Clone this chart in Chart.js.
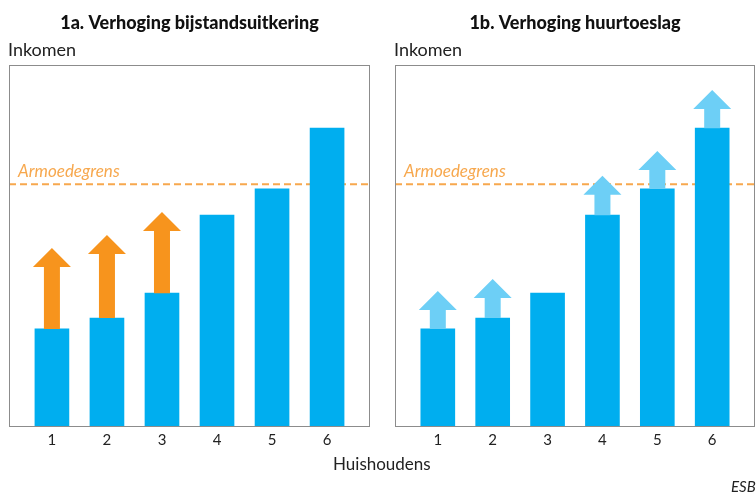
<!DOCTYPE html>
<html>
<head>
<meta charset="utf-8">
<script src="https://cdn.jsdelivr.net/npm/chart.js@4/dist/chart.umd.min.js"></script>
<style>
  body { margin: 0; background: #fff; width: 756px; height: 502px; overflow: hidden; position: relative; font-family: Lato, sans-serif; }
  canvas { position: absolute; top: 0; }
  #c1 { left: 0; }
  #c2 { left: 387px; }
  .lbl { position: absolute; color: #222; white-space: nowrap; }
</style>
</head>
<body>
<canvas id="c1" width="378" height="502"></canvas>
<canvas id="c2" width="369" height="502"></canvas>
<div class="lbl" style="left:333px;top:453px;font-size:17px">Huishoudens</div>
<div class="lbl" style="left:731px;top:477px;font-size:15px;font-style:italic">ESB</div>
<script>
  const categories = ['1', '2', '3', '4', '5', '6']
  const inkomen = [26.9, 29.9, 36.8, 58.4, 65.7, 82.5]
  const naBijstand = [49.3, 52.9, 59.3, null, null, null]
  const naHuurtoeslag = [37.4, 40.7, null, 69.3, 76.2, 93.1]
  const armoedegrens = 67

  // box, poverty line, arrows and texts
  const decor = {
    id: 'decor',
    beforeDatasetsDraw(chart, args, opts) {
      const { ctx, chartArea: a, scales: { y } } = chart
      const py = y.getPixelForValue(armoedegrens)
      ctx.save()
      ctx.strokeStyle = '#f7a84e'
      ctx.lineWidth = 2
      ctx.setLineDash([7, 4])
      ctx.beginPath()
      ctx.moveTo(a.left, py)
      ctx.lineTo(a.right, py)
      ctx.stroke()
      ctx.setLineDash([])
      ctx.fillStyle = '#f7a84e'
      ctx.font = 'italic 17px Lato'
      ctx.fillText('Armoedegrens', a.left + 9, py - 7)
      ctx.restore()
    },
    afterDatasetsDraw(chart, args, opts) {
      const { ctx, chartArea: a, scales: { x, y } } = chart
      ctx.save()
      ctx.fillStyle = opts.arrowColor
      opts.arrows.forEach((v, i) => {
        if (v == null) return
        const cx = x.getPixelForValue(i + 1)
        const base = y.getPixelForValue(inkomen[i])
        const tip = y.getPixelForValue(v)
        const headH = 19, headW = 19, shaft = 8
        ctx.beginPath()
        ctx.moveTo(cx - shaft, base)
        ctx.lineTo(cx - shaft, tip + headH)
        ctx.lineTo(cx - headW, tip + headH)
        ctx.lineTo(cx, tip)
        ctx.lineTo(cx + headW, tip + headH)
        ctx.lineTo(cx + shaft, tip + headH)
        ctx.lineTo(cx + shaft, base)
        ctx.closePath()
        ctx.fill()
      })
      ctx.strokeStyle = '#8c8c8c'
      ctx.lineWidth = 1
      ctx.strokeRect(a.left + 0.5, a.top + 0.5, a.right - a.left - 1, a.bottom - a.top)
      ctx.fillStyle = '#111'
      ctx.font = '900 18px Lato'
      ctx.textAlign = 'center'
      ctx.fillText(opts.title, (a.left + a.right) / 2, 29)
      ctx.fillStyle = '#222'
      ctx.font = '18px Lato'
      ctx.textAlign = 'left'
      ctx.fillText('Inkomen', a.left - 1, 56)
      ctx.restore()
    }
  }

  function makeChart(id, title, arrows, arrowColor, padLeft, padRight) {
    return new Chart(document.getElementById(id), {
      type: 'bar',
      data: {
        datasets: [{
          data: inkomen.map((v, i) => ({ x: i + 1, y: v })),
          backgroundColor: '#00aeef',
          barThickness: 34
        }]
      },
      options: {
        responsive: false,
        animation: false,
        layout: { padding: { top: 65, left: padLeft, right: padRight, bottom: 48 } },
        scales: {
          x: {
            type: 'linear',
            min: 0.22,
            max: 6.78,
            offset: false,
            grid: { display: false, drawTicks: false },
            border: { display: false },
            ticks: {
              stepSize: 1,
              includeBounds: false,
              padding: 5,
              color: '#222',
              font: { family: 'Lato', size: 15 },
              callback: v => categories[v - 1]
            }
          },
          y: { display: false, min: 0, max: 100 }
        },
        plugins: {
          legend: { display: false },
          tooltip: { enabled: false },
          decor: { title, arrows, arrowColor }
        }
      },
      plugins: [decor]
    })
  }

  makeChart('c1', '1a. Verhoging bijstandsuitkering', naBijstand, '#f7941d', 9, 8)
  makeChart('c2', '1b. Verhoging huurtoeslag', naHuurtoeslag, '#6dcff6', 8, 1)
</script>
</body>
</html>
